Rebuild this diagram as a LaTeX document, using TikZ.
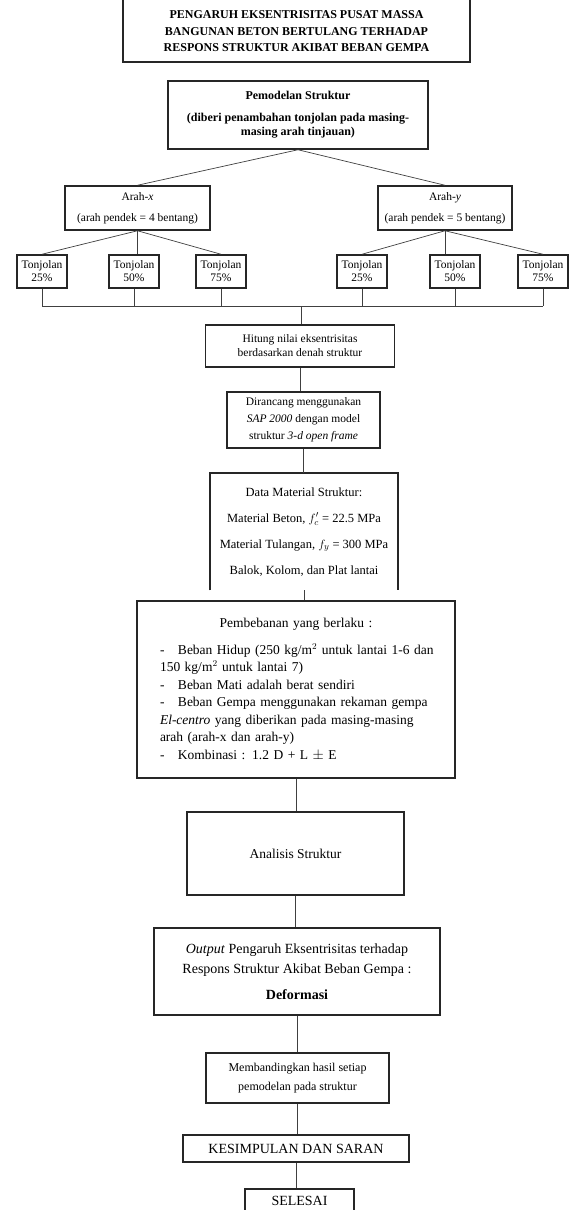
\documentclass[tikz,border=0pt]{standalone}
\usepackage{fontspec}
\setmainfont{Liberation Serif}

\newcommand{\fsz}[2]{\fontsize{#1}{#2}\selectfont}
\newcommand{\loaditem}[1]{\par\noindent\hangindent=18pt\hangafter=1\makebox[18pt][l]{-}#1\par}

\begin{document}
\begin{tikzpicture}[x=1pt,y=-1pt,
  frame/.style={draw=black!85,line width=1.5pt},
  stage/.style={frame,rectangle,align=center,inner sep=2pt},
  link/.style={draw=black!75,line width=0.7pt}]
  \path[fill=white,use as bounding box] (0,0) rectangle (569,1210);
  %
  \node[align=center,minimum width=347pt,minimum height=61pt,font=\fsz{12}{16.5}\bfseries] (title) at (296.5,31.5)
    {PENGARUH EKSENTRISITAS PUSAT MASSA\\BANGUNAN BETON BERTULANG TERHADAP\\RESPONS STRUKTUR AKIBAT BEBAN GEMPA};
  \node[stage,minimum width=260pt,minimum height=68pt,font=\fsz{12}{14.5}\bfseries] (model) at (298,115)
    {Pemodelan Struktur\\[7pt](diberi penambahan tonjolan pada masing-\\masing arah tinjauan)};
  \node[stage,minimum width=145pt,minimum height=44pt,font=\fsz{11.5}{13.5}] (arahx) at (137.5,208)
    {Arah-\textit{x}\\[8pt](arah pendek = 4 bentang)};
  \node[stage,minimum width=134pt,minimum height=44pt,font=\fsz{11.5}{13.5}] (arahy) at (445,208)
    {Arah-\textit{y}\\[8pt](arah pendek = 5 bentang)};
  \foreach \n/\cx/\p in {1/42/25,2/134/50,3/221/75,4/362/25,5/455/50,6/543/75}
    \node[stage,minimum width=50pt,minimum height=33pt,font=\fsz{11.5}{13}] (t\n) at (\cx,271.5) {Tonjolan\\\p\%};
  \coordinate (join) at (301,306);
  \node[stage,minimum width=189pt,minimum height=42pt,font=\fsz{11.5}{14}] (hitung) at (300,346)
    {Hitung nilai eksentrisitas\\berdasarkan denah struktur};
  \node[stage,minimum width=153pt,minimum height=56pt,font=\fsz{11.5}{17}] (design) at (303.5,420)
    {Dirancang menggunakan\\\textit{SAP 2000} dengan model\\struktur \textit{3-d open frame}};
  \node[align=center,minimum width=188pt,minimum height=117pt,anchor=north,font=\fsz{12.5}{16}] (data) at (304,473)
    {Data Material Struktur:\\[10pt]Material Beton, $f'_c$ = 22.5 MPa\\[10pt]Material Tulangan, $f_y$ = 300 MPa\\[10pt]Balok, Kolom, dan Plat lantai};
  \node[stage,minimum width=318pt,minimum height=177pt,text width=300pt,inner xsep=9pt,align=left,font=\fsz{13.5}{17.5}] (load) at (296,689.5)
    {\centerline{Pembebanan yang berlaku :}\par\vspace{9pt}\leftskip=14pt
     \loaditem{Beban Hidup (250 kg/m$^2$ untuk lantai 1-6 dan\\150 kg/m$^2$ untuk lantai 7)}
     \loaditem{Beban Mati adalah berat sendiri}
     \loaditem{Beban Gempa menggunakan rekaman gempa\\\textit{El-centro} yang diberikan pada masing-masing\\arah (arah-x dan arah-y)}
     \loaditem{Kombinasi : 1.2 D + L $\pm$ E}};
  \node[stage,minimum width=217pt,minimum height=83pt,font=\fsz{13.5}{16}] (analysis) at (295.5,853.5) {Analisis Struktur};
  \node[stage,minimum width=286pt,minimum height=87pt,font=\fsz{14}{20}] (output) at (297,971.5)
    {\textit{Output} Pengaruh Eksentrisitas terhadap\\Respons Struktur Akibat Beban Gempa :\\[6pt]\textbf{Deformasi}};
  \node[stage,minimum width=183pt,minimum height=50pt,font=\fsz{12}{19}] (compare) at (297.5,1078)
    {Membandingkan hasil setiap\\pemodelan pada struktur};
  \node[stage,minimum width=226pt,minimum height=27pt,font=\fsz{14}{16}] (conclusion) at (296,1148.5) {KESIMPULAN DAN SARAN};
  \node[stage,minimum width=109pt,minimum height=24pt,anchor=north,font=\fsz{14}{16}] (finish) at (299.5,1188) {SELESAI};
  %
  \draw[frame] ([yshift=12pt]title.north west) -- (title.south west) -- (title.south east) -- ([yshift=12pt]title.north east);
  \draw[frame] (data.south west) -- (data.north west) -- (data.north east) -- (data.south east);
  \draw[link] (model.south) -- (arahx.north);
  \draw[link] (model.south) -- (arahy.north);
  \draw[link] (arahx.south) -- (t1.north);
  \draw[link] (arahx.south) -- (arahx.south |- t2.north);
  \draw[link] (arahx.south) -- (t3.north);
  \draw[link] (arahy.south) -- (t4.north);
  \draw[link] (arahy.south) -- (arahy.south |- t5.north);
  \draw[link] (arahy.south) -- (t6.north);
  \foreach \n in {1,...,6}
    \draw[link] (t\n.south) -- (t\n.south |- join);
  \draw[link] (t1.south |- join) -- (t6.south |- join);
  \draw[link] (join) -- (join |- hitung.north);
  \draw[link] (hitung.south) -- (hitung.south |- design.north);
  \draw[link] (design.south) -- (design.south |- data.north);
  \draw[link] (data.south) -- (data.south |- load.north);
  \draw[link] (load.south) -- (load.south |- analysis.north);
  \draw[link] (analysis.south) -- (analysis.south |- output.north);
  \draw[link] (output.south) -- (output.south |- compare.north);
  \draw[link] (compare.south) -- (compare.south |- conclusion.north);
  \draw[link] (conclusion.south) -- (conclusion.south |- finish.north);
\end{tikzpicture}
\end{document}
